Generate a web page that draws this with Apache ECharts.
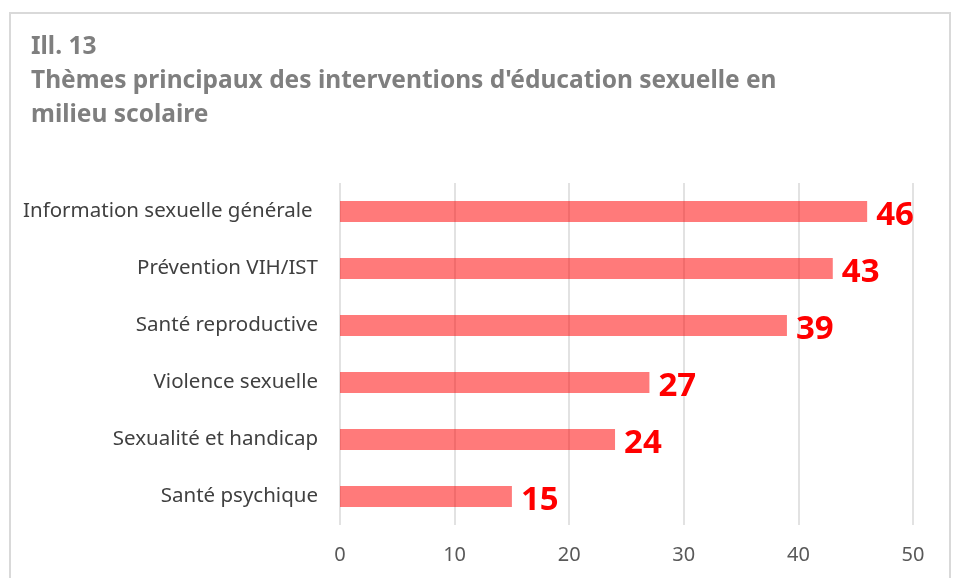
<!DOCTYPE html>
<html>
<head>
<meta charset="utf-8">
<script src="https://cdn.jsdelivr.net/npm/echarts@6/dist/echarts.min.js"></script>
<style>
  html, body { margin: 0; padding: 0; background: #fff; }
  #frame { position: absolute; left: 9px; top: 12px; width: 942px; height: 600px; border: 2px solid #d9d9d9; box-sizing: border-box; }
  #main { position: absolute; left: 0; top: 0; width: 957px; height: 578px; }
</style>
</head>
<body>
<div id="frame"></div>
<div id="main"></div>
<script>
var categories = ['Information sexuelle générale ', 'Prévention VIH/IST', 'Santé reproductive', 'Violence sexuelle', 'Sexualité et handicap', 'Santé psychique'];
var values = [46, 43, 39, 27, 24, 15];
var ticks = [0, 10, 20, 30, 40, 50];

var myChart = echarts.init(document.getElementById('main'));

var option = {
    title: {
        text: 'Ill. 13\nThèmes principaux des interventions d\'éducation sexuelle en\nmilieu scolaire',
        left: 26,
        top: 25,
        textStyle: {
            fontFamily: 'Noto Sans',
            fontSize: 24.5,
            fontWeight: 'bold',
            color: '#7f7f7f',
            lineHeight: 34
        }
    },
    grid: { left: 340, right: 44, top: 183, bottom: 53 },
    xAxis: {
        type: 'value',
        min: ticks[0],
        max: ticks[ticks.length - 1],
        interval: 10,
        axisLine: { show: false },
        axisTick: { show: false },
        splitLine: { lineStyle: { color: '#d9d9d9', width: 1.5 } },
        axisLabel: { color: '#595959', fontSize: 20, fontFamily: 'Noto Sans', margin: 20 }
    },
    yAxis: {
        type: 'category',
        inverse: true,
        data: categories,
        axisLine: { show: false },
        axisTick: { show: false },
        axisLabel: { color: '#404040', fontSize: 20.5, fontFamily: 'Noto Sans', margin: 22 }
    },
    series: [{
        type: 'bar',
        data: values,
        barWidth: 21,
        itemStyle: { color: 'rgba(255, 0, 0, 0.52)' },
        label: {
            show: true,
            position: 'right',
            distance: 9,
            color: '#ff0000',
            fontSize: 33,
            fontWeight: 'bold',
            fontFamily: 'Noto Sans',
            offset: [0, 4]
        }
    }]
};

myChart.setOption(option);
</script>
</body>
</html>
